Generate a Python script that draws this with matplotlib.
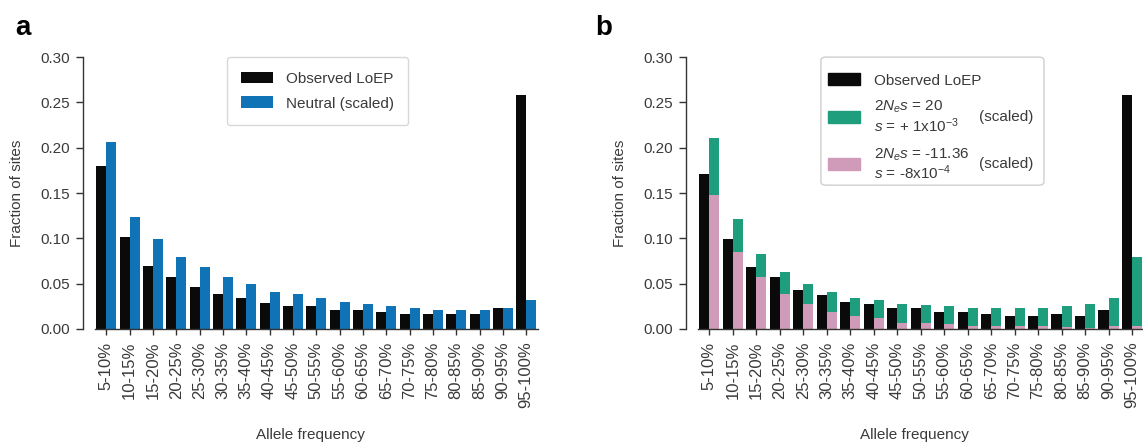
import matplotlib
matplotlib.use("Agg")
import matplotlib.pyplot as plt
import numpy as np
from matplotlib.patches import Patch, FancyBboxPatch

##################### PLOT SETTINGS #####################
plt.rcParams['font.family'] = ['Liberation Sans', 'DejaVu Sans']
plt.rcParams['mathtext.fontset'] = 'custom'
plt.rcParams['mathtext.rm'] = 'Liberation Sans'
plt.rcParams['mathtext.it'] = 'Liberation Sans:italic'
text_col = '#3a3a3a'
plt.rcParams['text.color'] = text_col
plt.rcParams['axes.labelcolor'] = text_col
plt.rcParams['xtick.color'] = text_col
plt.rcParams['ytick.color'] = text_col
font_size = 11
xtick_size = 12

col_obs = '#0a0a0a'
col_neutral = '#0f73b6'
col_pos = '#1f9e7d'
col_neg = '#cf9bb8'
#########################################################

bins = ['5-10%', '10-15%', '15-20%', '20-25%', '25-30%', '30-35%', '35-40%',
        '40-45%', '45-50%', '50-55%', '55-60%', '60-65%', '65-70%', '70-75%',
        '75-80%', '80-85%', '85-90%', '90-95%', '95-100%']

# panel a
observed_a = [0.180, 0.101, 0.070, 0.057, 0.046, 0.039, 0.034, 0.029, 0.025, 0.025,
              0.021, 0.021, 0.019, 0.016, 0.016, 0.016, 0.016, 0.023, 0.258]
neutral_a = [0.206, 0.124, 0.099, 0.079, 0.068, 0.057, 0.050, 0.041, 0.039, 0.034,
             0.030, 0.028, 0.025, 0.023, 0.021, 0.021, 0.021, 0.023, 0.032]

# panel b
observed_b = [0.171, 0.099, 0.068, 0.057, 0.043, 0.037, 0.030, 0.028, 0.023, 0.023,
              0.019, 0.019, 0.016, 0.014, 0.014, 0.016, 0.014, 0.021, 0.258]
positive_b = [0.211, 0.121, 0.083, 0.063, 0.050, 0.041, 0.034, 0.032, 0.028, 0.026,
              0.025, 0.023, 0.023, 0.023, 0.023, 0.025, 0.028, 0.034, 0.079]
negative_b = [0.148, 0.085, 0.057, 0.039, 0.028, 0.019, 0.014, 0.012, 0.007, 0.007,
              0.005, 0.003, 0.003, 0.003, 0.003, 0.002, 0.001, 0.003, 0.003]

x = np.arange(len(bins))
w = 0.43


def style_axis(ax):
    ax.set_xlim(-1.0, 18.5)
    ax.set_ylim(0, 0.30)
    ax.set_yticks(np.arange(0, 0.301, 0.05))
    ax.set_yticklabels(['%.2f' % v for v in np.arange(0, 0.301, 0.05)], fontsize=font_size)
    ax.set_xticks(x)
    ax.set_xticklabels(bins, rotation=90, fontsize=xtick_size)
    ax.spines['top'].set_visible(False)
    ax.spines['right'].set_visible(False)
    for s in ['left', 'bottom']:
        ax.spines[s].set_color('#333333')
        ax.spines[s].set_linewidth(1.0)
    ax.spines['bottom'].set_bounds(-0.47, 18.5)
    ax.tick_params(axis='y', length=5, width=1, pad=4, color='#333333')
    ax.tick_params(axis='x', length=4, width=1, pad=5, color='#333333')
    ax.set_ylabel('Fraction of sites', fontsize=font_size, labelpad=12)
    ax.set_xlabel('Allele frequency', fontsize=font_size, labelpad=14)


fig = plt.figure(figsize=(11.43, 4.45), dpi=100)
ax_a = fig.add_axes([0.0726, 0.2607, 0.398, 0.611])
ax_b = fig.add_axes([0.600, 0.2607, 0.4007, 0.611])

# ---- panel a ----
ax_a.bar(x - w / 2, observed_a, width=w, color=col_obs, label='Observed LoEP')
ax_a.bar(x + w / 2, neutral_a, width=w, color=col_neutral, label='Neutral (scaled)')
style_axis(ax_a)
leg_a = ax_a.legend(loc='upper left', bbox_to_anchor=(0.316, 1.0), borderaxespad=0,
                    fontsize=font_size, frameon=True, fancybox=True, borderpad=0.95,
                    handlelength=2.1, handleheight=0.8, handletextpad=0.8,
                    labelspacing=0.7)
leg_a.get_frame().set_edgecolor('#cfcfcf')
leg_a.get_frame().set_linewidth(1.0)

# ---- panel b ----
ax_b.bar(x - w / 2, observed_b, width=w, color=col_obs)
ax_b.bar(x + w / 2, positive_b, width=w, color=col_pos)
ax_b.bar(x + w / 2, negative_b, width=w, color=col_neg)
style_axis(ax_b)

handles_b = [Patch(color=col_obs), Patch(color=col_pos), Patch(color=col_neg)]
labels_b = ['Observed LoEP',
            '$2N_es$ = 20\n$s$ = + 1x10$^{-3}$',
            '$2N_es$ = -11.36\n$s$ = -8x10$^{-4}$']
leg_b = ax_b.legend(handles_b, labels_b, loc='upper left', bbox_to_anchor=(0.31, 0.94),
                    borderaxespad=0, borderpad=0, fontsize=font_size, frameon=False,
                    handlelength=2.1, handleheight=0.8, handletextpad=0.9,
                    labelspacing=0.75)
for t in leg_b.get_texts()[1:]:
    t.set_linespacing(1.05)

box = FancyBboxPatch((0.295, 0.529), 0.487, 0.471, transform=ax_b.transAxes,
                     boxstyle='round,pad=0,rounding_size=0.012', facecolor='white',
                     edgecolor='#cfcfcf', linewidth=1.0, clip_on=False, zorder=4)
ax_b.add_patch(box)

fig.canvas.draw()
inv = ax_b.transAxes.inverted()
for t in leg_b.get_texts()[1:]:
    bb = t.get_window_extent()
    yc = inv.transform((0, (bb.y0 + bb.y1) / 2))[1]
    ax_b.text(0.64, yc, '(scaled)', transform=ax_b.transAxes, fontsize=font_size,
              va='center', ha='left', zorder=6)

fig.text(0.013, 0.921, 'a', fontsize=20, fontweight='bold', color='#000000')
fig.text(0.521, 0.921, 'b', fontsize=20, fontweight='bold', color='#000000')

fig.savefig('out.png', dpi=100)
